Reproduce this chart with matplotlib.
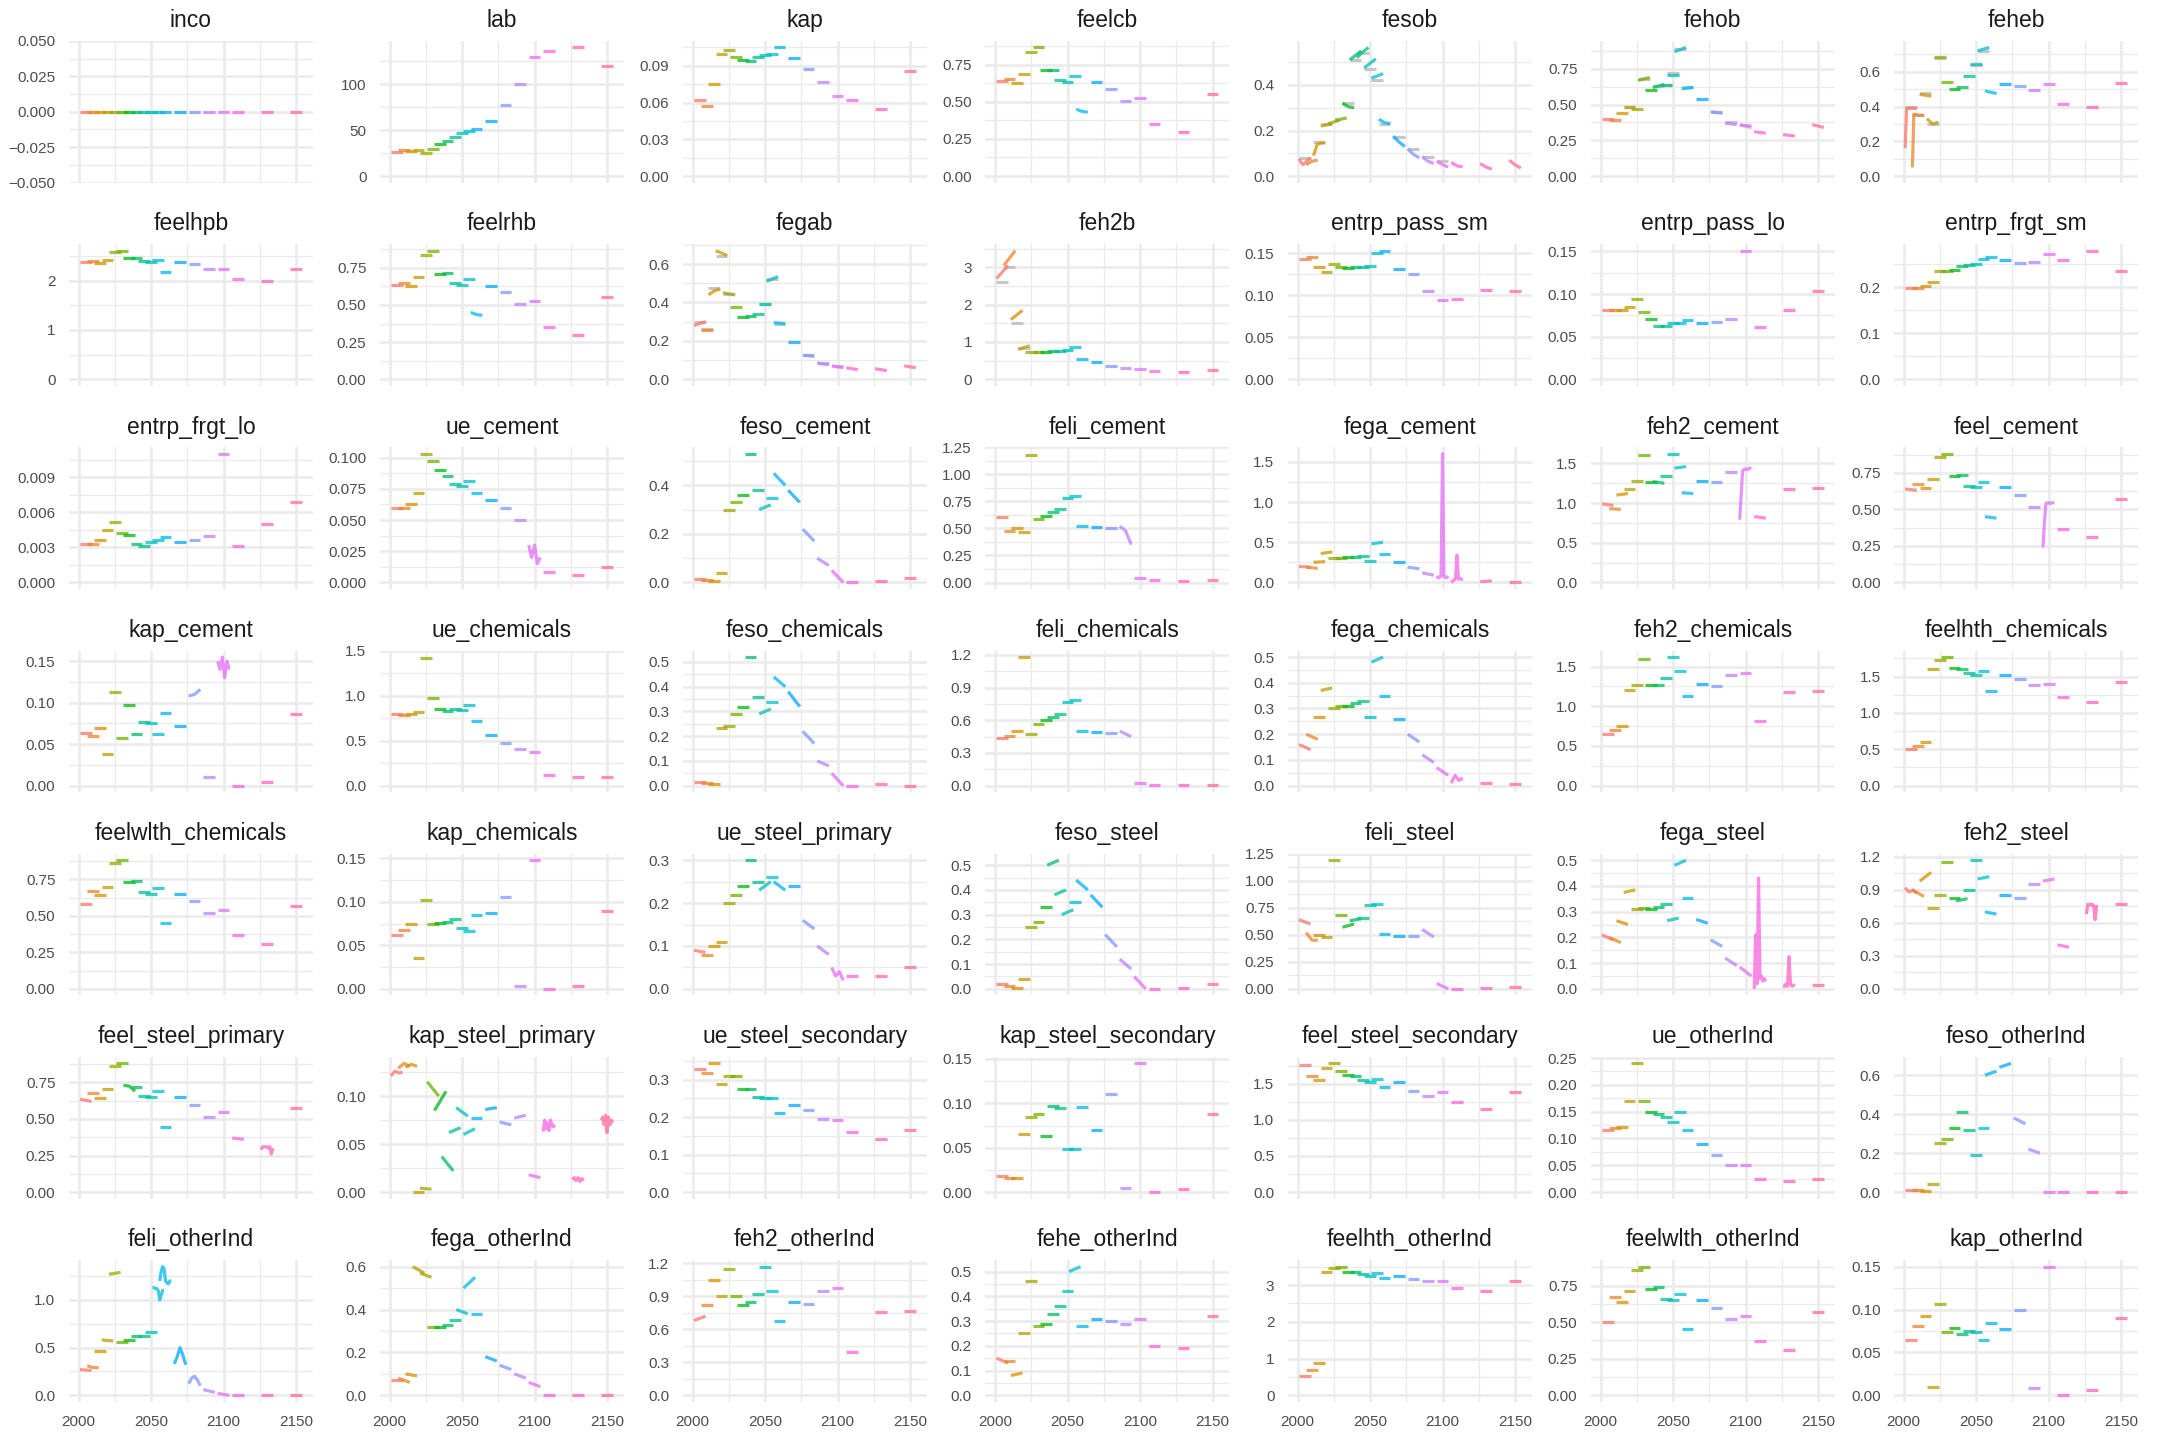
import numpy as np
import matplotlib.pyplot as plt

plt.rcParams['font.family'] = ['Liberation Sans', 'DejaVu Sans']

# model periods; each period is drawn as a short segment t-4 .. t+4
periods = [2005, 2010, 2015, 2020, 2025, 2030, 2035, 2040, 2045, 2050, 2055, 2060,
           2070, 2080, 2090, 2100, 2110, 2130, 2150]

# one entry per period: a number = flat segment, a tuple = values along the segment
inco = [0, 0, 0, 0, 0, 0, 0, 0, 0, 0, 0, 0, 0, 0, 0, 0, 0, 0, 0]
lab = [26.5, 28, 27, 28, 25.5, 29.5, 34.5, 38, 42.5, 46.5, 49.5, 51, 59.5, 77.5, 100, 130, 136, 140, 120]
kap = [0.062, 0.057, 0.075, 0.1, 0.103, 0.097, 0.095, 0.094, 0.097, 0.099, 0.1, 0.105, 0.096,
       0.087, 0.077, 0.065, 0.062, 0.055, 0.086]
feelcb = [0.64, 0.65, 0.625, 0.685, 0.835, 0.865, 0.71, 0.715, 0.645, 0.635, 0.675, (0.45, 0.435, 0.43),
          0.63, 0.585, 0.505, 0.525, 0.35, 0.295, 0.555]
fesob = [(0.075, 0.05, 0.065, 0.08), (0.05, 0.065, 0.07), (0.09, 0.14, 0.145, 0.145), (0.22, 0.225, 0.23),
         (0.23, 0.245), (0.245, 0.255), (0.32, 0.305, 0.30), (0.51, 0.53, 0.55), (0.52, 0.545, 0.565),
         (0.475, 0.515), (0.43, 0.45), (0.25, 0.235, 0.23), (0.175, 0.15, 0.13), (0.12, 0.095, 0.08),
         (0.085, 0.065, 0.055), (0.065, 0.05, 0.04), (0.06, 0.045, 0.04), (0.055, 0.04, 0.03), (0.07, 0.05, 0.035)]
fesob_ref = [0.08, None, 0.15, 0.23, None, None, 0.32, 0.51, 0.54, 0.47, 0.42, 0.23, 0.17, 0.12,
             0.085, 0.065, None, None, None]
fehob = [0.40, 0.39, 0.44, 0.48, 0.47, (0.67, 0.69), 0.60, (0.62, 0.64), 0.64, 0.71, (0.87, 0.90),
         (0.61, 0.62), 0.54, (0.45, 0.44), (0.37, 0.36), (0.36, 0.34), (0.31, 0.30), (0.29, 0.28), (0.36, 0.34)]
fehob_ref = [None, None, None, 0.48, None, 0.68, None, 0.63, 0.64, 0.72, 0.89, 0.62, None, 0.45,
             0.38, 0.36, None, None, None]
feheb = [(0.16, 0.39, 0.39, 0.39, 0.39, 0.39, 0.39, 0.39, 0.385), (0.05, 0.355, 0.355, 0.355, 0.35, 0.35, 0.35, 0.35, 0.35),
         (0.47, 0.46), (0.33, 0.30, 0.31), 0.685, 0.54, 0.50, 0.51, 0.575, 0.645, (0.72, 0.74), (0.49, 0.475),
         0.53, 0.52, 0.495, 0.53, 0.415, 0.40, 0.535]
feheb_ref = [0.40, 0.35, 0.475, 0.30, 0.68, None, None, None, None, 0.64, 0.72, None, None, None,
             None, None, None, None, None]
feelhpb = [2.38, 2.40, 2.36, 2.43, 2.58, 2.61, 2.46, 2.46, 2.39, 2.38, 2.42, 2.18, 2.38, 2.33, 2.24, 2.24, 2.04, 1.99, 2.24]
feelrhb = [0.635, 0.65, 0.625, 0.685, 0.835, 0.865, 0.71, 0.715, 0.645, 0.635, 0.675, (0.45, 0.435, 0.43),
           0.63, 0.585, 0.505, 0.525, 0.35, 0.295, 0.555]
fegab = [(0.28, 0.3), 0.255, (0.44, 0.46, 0.47), (0.67, 0.645), (0.45, 0.44), 0.375, 0.325, 0.33, 0.34, 0.39,
         (0.51, 0.535), (0.295, 0.29), 0.195, (0.125, 0.12), (0.085, 0.075), (0.07, 0.06), (0.06, 0.05),
         (0.055, 0.045), (0.07, 0.06)]
fegab_ref = [0.30, 0.26, 0.475, 0.64, 0.445, None, None, None, None, 0.39, 0.52, 0.29, None, 0.125,
             0.085, 0.07, None, None, None]
feh2b = [(2.7, 3.05), (3.05, 3.45), (1.6, 1.85), (0.8, 0.9), 0.73, 0.74, 0.72, 0.77, 0.76, 0.78, 0.87,
         0.55, 0.45, 0.35, 0.30, 0.27, 0.22, 0.20, 0.26]
feh2b_ref = [2.62, 3.0, 1.5, 0.85, None, None, None, None, None, None, None, None, None, None,
             None, None, None, None, None]
entrp_pass_sm = [0.143, 0.145, 0.134, 0.128, 0.137, 0.133, 0.132, 0.134, 0.134, 0.135, 0.150, 0.153,
                 0.131, 0.125, 0.105, 0.094, 0.096, 0.106, 0.105]
entrp_pass_lo = [0.081, 0.081, 0.081, 0.085, 0.094, 0.079, 0.071, 0.062, 0.062, 0.066, 0.066, 0.070,
                 0.066, 0.067, 0.071, 0.151, 0.061, 0.081, 0.104]
entrp_frgt_sm = [0.198, 0.197, 0.203, 0.212, 0.235, 0.235, 0.238, 0.245, 0.248, 0.25, 0.26, 0.265,
                 0.258, 0.253, 0.254, 0.272, 0.258, 0.279, 0.235]
entrp_frgt_lo = [0.0033, 0.0033, 0.0036, 0.0045, 0.0052, 0.0042, 0.0041, 0.0033, 0.0031, 0.0035, 0.0036,
                 0.0039, 0.0035, 0.0036, 0.004, 0.011, 0.0031, 0.005, 0.0069]
ue_cement = [0.06, 0.06, 0.063, 0.072, 0.103, 0.097, 0.09, 0.085, 0.079, 0.077, 0.081, 0.072, 0.066,
             0.06, 0.05, (0.03, 0.02, 0.03, 0.015, 0.02), 0.008, 0.006, 0.012]
feso_cement = [0.015, 0.01, 0.005, 0.04, 0.3, 0.33, 0.36, 0.53, 0.38, (0.3, 0.32), 0.35, (0.45, 0.4),
               (0.38, 0.33), (0.22, 0.17), (0.1, 0.07), (0.05, 0.0), 0.0, 0.005, 0.02]
feli_cement = [0.61, 0.48, 0.5, 0.47, 1.18, 0.59, 0.62, 0.65, 0.68, 0.78, 0.80, 0.52, 0.51, 0.50,
               (0.52, 0.48, 0.35), 0.04, 0.02, 0.01, 0.02]
fega_cement = [(0.2, 0.19), (0.19, 0.175), (0.25, 0.26), (0.36, 0.38), 0.31, 0.31, 0.32, 0.32, 0.33, 0.27,
               (0.48, 0.5), 0.36, 0.26, (0.19, 0.17), (0.12, 0.09),
               (0.05, 0.07, 0.06, 0.08, 1.6, 0.08, 0.06, 0.07, 0.05),
               (0.0, 0.02, 0.03, 0.05, 0.34, 0.04, 0.05, 0.04, 0.03), (0.01, 0.02), 0.01]
feh2_cement = [(0.99, 0.97), (0.93, 0.92), (1.1, 1.12), 1.18, 1.28, 1.6, 1.27, (1.27, 1.25), 1.34, 1.62,
               (1.44, 1.46), (1.13, 1.12), 1.28, 1.26, 1.39, (0.79, 1.1, 1.41, 1.42, 1.43, 1.42, 1.43, 1.44, 1.44),
               (0.83, 0.81), 1.18, 1.19]
feel_cement = [(0.64, 0.63), 0.675, 0.645, 0.71, 0.86, 0.88, 0.73, 0.735, 0.66, 0.65, 0.69, (0.45, 0.44),
               0.65, 0.60, 0.515, (0.24, 0.4, 0.54, 0.545, 0.545, 0.54, 0.545, 0.545, 0.545), 0.365, 0.31, 0.57]
kap_cement = [0.063, 0.06, 0.07, 0.038, 0.113, 0.057, 0.097, 0.062, 0.077, 0.075, 0.062, 0.088, 0.072,
              (0.108, 0.11, 0.116), 0.01, (0.15, 0.14, 0.155, 0.13, 0.15, 0.14), 0.0, 0.004, 0.086]
ue_chemicals = [0.8, 0.78, 0.8, 0.82, 1.42, 0.97, 0.85, 0.83, 0.85, 0.84, 0.9, 0.72, 0.56, 0.47, 0.41,
                0.37, 0.12, 0.1, 0.1]
feso_chemicals = [0.015, 0.01, 0.005, 0.235, 0.24, 0.29, 0.32, 0.52, 0.36, (0.29, 0.31), 0.34, (0.44, 0.4),
                  (0.38, 0.32), (0.22, 0.17), (0.1, 0.08), (0.05, 0.0), 0.0, 0.005, 0.0]
feli_chemicals = [0.44, 0.46, 0.5, 1.18, 0.47, 0.57, 0.6, 0.63, 0.66, 0.77, 0.79, 0.5, 0.49, 0.48,
                  (0.5, 0.45), 0.02, 0.01, 0.005, 0.005]
fega_chemicals = [(0.16, 0.14), (0.2, 0.18), 0.265, (0.37, 0.38), 0.3, 0.31, 0.31, 0.32, 0.33, 0.265,
                  (0.48, 0.5), 0.35, 0.26, (0.2, 0.17), (0.12, 0.09), (0.07, 0.04), (0.01, 0.04, 0.02, 0.03),
                  0.01, 0.005]
feh2_chemicals = [0.65, 0.7, 0.75, 1.2, 1.27, 1.6, 1.27, 1.27, 1.35, 1.62, 1.45, 1.13, 1.28, 1.26, 1.39,
                  1.42, 0.82, 1.18, 1.19]
feelhth_chemicals = [0.5, 0.55, 0.6, 1.6, 1.73, 1.77, 1.62, 1.6, 1.55, 1.52, 1.58, 1.3, 1.52, 1.47, 1.38,
                     1.4, 1.22, 1.15, 1.43]
feelwlth_chemicals = [0.58, 0.67, 0.64, 0.7, 0.86, 0.88, 0.73, 0.74, 0.66, 0.65, 0.69, 0.45, 0.65, 0.60,
                      0.52, 0.54, 0.37, 0.31, 0.57]
kap_chemicals = [0.062, 0.068, 0.075, 0.036, 0.102, 0.075, 0.076, 0.077, 0.08, 0.07, 0.067, 0.085, 0.087,
                 0.106, 0.003, 0.148, 0.0, 0.003, 0.09]
ue_steel_primary = [(0.09, 0.085), 0.08, 0.1, 0.11, 0.2, 0.22, 0.24, 0.3, 0.25, (0.23, 0.25), 0.26,
                    (0.25, 0.23), 0.24, (0.16, 0.14), (0.1, 0.08), (0.05, 0.03, 0.04, 0.02), 0.03, 0.03, 0.05]
feso_steel = [0.02, 0.01, 0.005, 0.04, 0.25, 0.27, 0.33, (0.5, 0.52), (0.38, 0.4), (0.3, 0.32), 0.35,
              (0.44, 0.40), (0.38, 0.33), (0.22, 0.17), (0.12, 0.08), (0.05, 0.0), 0.0, 0.005, 0.02]
feli_steel = [(0.64, 0.6), (0.52, 0.45, 0.45), 0.5, 0.48, 1.19, 0.68, (0.57, 0.6), (0.63, 0.65), 0.66, 0.78,
              0.79, 0.51, 0.49, 0.49, (0.55, 0.48), (0.05, 0.0), 0.0, 0.005, 0.02]
fega_steel = [(0.21, 0.19), (0.2, 0.18), (0.265, 0.25), (0.375, 0.385), 0.31, 0.315, 0.31, 0.32, 0.33,
              (0.265, 0.275), (0.48, 0.5), 0.355, (0.27, 0.255), (0.19, 0.165), (0.12, 0.09), (0.085, 0.05),
              (0.0, 0.21, 0.02, 0.43, 0.04, 0.05, 0.03, 0.04, 0.03),
              (0.01, 0.01, 0.02, 0.01, 0.125, 0.02, 0.01, 0.015, 0.01), 0.015]
feh2_steel = [(0.92, 0.88, 0.9, 0.87), (0.9, 0.84), (0.98, 1.06), 0.74, 0.85, 1.15, 0.83, (0.8, 0.82), 0.9,
              1.17, (1.0, 1.02), (0.7, 0.68), 0.85, 0.83, 0.95, (0.98, 1.0), (0.4, 0.38),
              (0.68, 0.77, 0.77, 0.76, 0.77, 0.76, 0.63, 0.75, 0.75), 0.77]
feel_steel_primary = [(0.635, 0.62), 0.675, 0.645, 0.705, 0.86, 0.88, (0.73, 0.725, 0.69), 0.72, 0.66, 0.65,
                      0.69, 0.445, 0.65, 0.595, 0.515, 0.545, (0.37, 0.36),
                      (0.29, 0.31, 0.31, 0.31, 0.31, 0.3, 0.31, 0.26, 0.3), 0.575]
kap_steel_primary = [(0.121, 0.126, 0.124, 0.125), (0.129, 0.134, 0.131), (0.13, 0.133, 0.131), 0.0,
                     (0.004, 0.003), (0.115, 0.1), (0.085, 0.105), (0.037, 0.022), (0.062, 0.067),
                     (0.088, 0.079), (0.06, 0.066), 0.077, (0.086, 0.088), (0.073, 0.07), (0.077, 0.08),
                     (0.018, 0.015), (0.063, 0.075, 0.066, 0.072, 0.064, 0.075, 0.07, 0.068, 0.07),
                     (0.013, 0.015, 0.012, 0.015, 0.011, 0.014, 0.012),
                     (0.075, 0.078, 0.07, 0.08, 0.062, 0.078, 0.07, 0.075, 0.072)]
ue_steel_secondary = [0.328, 0.317, 0.343, 0.288, 0.31, 0.31, 0.276, 0.276, 0.254, 0.25, 0.25, 0.21, 0.232,
                      0.218, 0.195, 0.193, 0.16, 0.141, 0.165]
kap_steel_secondary = [0.018, 0.016, 0.016, 0.065, 0.085, 0.088, 0.063, 0.097, 0.095, 0.048, 0.048, 0.096,
                       0.07, 0.11, 0.005, 0.145, 0.0, 0.003, 0.088]
feel_steel_secondary = [1.76, 1.6, 1.55, 1.72, 1.78, 1.68, 1.62, 1.6, 1.55, 1.52, 1.57, 1.45, 1.52, 1.4,
                        1.33, 1.38, 1.25, 1.15, 1.38]
ue_otherInd = [0.115, 0.12, 0.122, 0.17, 0.24, 0.17, 0.15, 0.145, 0.14, 0.13, 0.15, 0.115, 0.09, 0.07,
               0.05, 0.05, 0.025, 0.02, 0.025]
feso_otherInd = [0.01, 0.01, 0.005, 0.04, 0.25, 0.27, 0.33, 0.41, 0.32, 0.19, 0.33, (0.6, 0.62), (0.64, 0.66),
                 (0.38, 0.35), (0.22, 0.2), 0.0, 0.0, 0.0, 0.0]
feli_otherInd = [(0.27, 0.26), (0.31, 0.29, 0.29), 0.46, (0.58, 0.57), (1.27, 1.29), 0.56, 0.58, 0.62, 0.62,
                 0.66, (1.13, 1.13, 1.12, 1.12, 1.1, 1.0, 1.05, 1.1, 1.1),
                 (1.2, 1.3, 1.35, 1.33, 1.2, 1.18, 1.17, 1.2, 1.2), (0.33, 0.4, 0.5, 0.42, 0.32),
                 (0.12, 0.18, 0.2, 0.16, 0.1), (0.06, 0.03), (0.02, 0.0), 0.0, 0.0, 0.0]
fega_otherInd = [0.07, (0.08, 0.06), (0.1, 0.09), (0.6, 0.57), (0.57, 0.55), 0.32, 0.32, 0.33, 0.35,
                 (0.4, 0.38), (0.5, 0.55), 0.38, (0.18, 0.16), (0.14, 0.12), (0.1, 0.08), (0.06, 0.04),
                 0.0, 0.0, 0.0]
feh2_otherInd = [(0.68, 0.72), 0.82, 1.05, 0.9, 1.15, 0.9, 0.82, 0.85, 0.92, 1.17, 0.95, 0.68, 0.85, 0.83,
                 0.95, 0.98, 0.39, 0.76, 0.77]
fehe_otherInd = [(0.15, 0.13), 0.14, (0.08, 0.09), 0.25, 0.46, 0.28, 0.29, 0.33, 0.36, 0.42, (0.5, 0.52),
                 0.28, 0.31, 0.3, 0.29, 0.31, 0.2, 0.19, 0.32]
feelhth_otherInd = [0.52, 0.7, 0.88, 3.35, 3.45, 3.5, 3.35, 3.35, 3.3, 3.25, 3.32, 3.2, 3.25, 3.15, 3.1,
                    3.1, 2.92, 2.85, 3.1]
feelwlth_otherInd = [0.5, 0.67, 0.64, 0.71, 0.86, 0.88, 0.73, 0.74, 0.66, 0.65, 0.69, 0.45, 0.65, 0.6,
                     0.52, 0.54, 0.37, 0.31, 0.57]
kap_otherInd = [0.064, 0.081, 0.092, 0.01, 0.106, 0.074, 0.078, 0.072, 0.075, 0.074, 0.065, 0.084, 0.077,
                0.1, 0.008, 0.15, 0.0, 0.006, 0.09]

# y breaks per panel
t_025 = [0, 0.25, 0.5, 0.75]
t_05 = [0, 0.05, 0.1, 0.15]
t_half = [0, 0.5, 1, 1.5]
t_tenth5 = [0, 0.1, 0.2, 0.3, 0.4, 0.5]

panels = [
    ("inco", inco, [-0.05, -0.025, 0, 0.025, 0.05]),
    ("lab", lab, [0, 50, 100]),
    ("kap", kap, [0, 0.03, 0.06, 0.09]),
    ("feelcb", feelcb, t_025),
    ("fesob", fesob, [0, 0.2, 0.4]),
    ("fehob", fehob, t_025),
    ("feheb", feheb, [0, 0.2, 0.4, 0.6]),
    ("feelhpb", feelhpb, [0, 1, 2]),
    ("feelrhb", feelrhb, t_025),
    ("fegab", fegab, [0, 0.2, 0.4, 0.6]),
    ("feh2b", feh2b, [0, 1, 2, 3]),
    ("entrp_pass_sm", entrp_pass_sm, t_05),
    ("entrp_pass_lo", entrp_pass_lo, t_05),
    ("entrp_frgt_sm", entrp_frgt_sm, [0, 0.1, 0.2]),
    ("entrp_frgt_lo", entrp_frgt_lo, [0, 0.003, 0.006, 0.009]),
    ("ue_cement", ue_cement, [0, 0.025, 0.05, 0.075, 0.1]),
    ("feso_cement", feso_cement, [0, 0.2, 0.4]),
    ("feli_cement", feli_cement, [0, 0.25, 0.5, 0.75, 1, 1.25]),
    ("fega_cement", fega_cement, t_half),
    ("feh2_cement", feh2_cement, t_half),
    ("feel_cement", feel_cement, t_025),
    ("kap_cement", kap_cement, t_05),
    ("ue_chemicals", ue_chemicals, t_half),
    ("feso_chemicals", feso_chemicals, t_tenth5),
    ("feli_chemicals", feli_chemicals, [0, 0.3, 0.6, 0.9, 1.2]),
    ("fega_chemicals", fega_chemicals, t_tenth5),
    ("feh2_chemicals", feh2_chemicals, t_half),
    ("feelhth_chemicals", feelhth_chemicals, t_half),
    ("feelwlth_chemicals", feelwlth_chemicals, t_025),
    ("kap_chemicals", kap_chemicals, t_05),
    ("ue_steel_primary", ue_steel_primary, [0, 0.1, 0.2, 0.3]),
    ("feso_steel", feso_steel, t_tenth5),
    ("feli_steel", feli_steel, [0, 0.25, 0.5, 0.75, 1, 1.25]),
    ("fega_steel", fega_steel, t_tenth5),
    ("feh2_steel", feh2_steel, [0, 0.3, 0.6, 0.9, 1.2]),
    ("feel_steel_primary", feel_steel_primary, t_025),
    ("kap_steel_primary", kap_steel_primary, [0, 0.05, 0.1]),
    ("ue_steel_secondary", ue_steel_secondary, [0, 0.1, 0.2, 0.3]),
    ("kap_steel_secondary", kap_steel_secondary, t_05),
    ("feel_steel_secondary", feel_steel_secondary, t_half),
    ("ue_otherInd", ue_otherInd, [0, 0.05, 0.1, 0.15, 0.2, 0.25]),
    ("feso_otherInd", feso_otherInd, [0, 0.2, 0.4, 0.6]),
    ("feli_otherInd", feli_otherInd, [0, 0.5, 1]),
    ("fega_otherInd", fega_otherInd, [0, 0.2, 0.4, 0.6]),
    ("feh2_otherInd", feh2_otherInd, [0, 0.3, 0.6, 0.9, 1.2]),
    ("fehe_otherInd", fehe_otherInd, t_tenth5),
    ("feelhth_otherInd", feelhth_otherInd, [0, 1, 2, 3]),
    ("feelwlth_otherInd", feelwlth_otherInd, t_025),
    ("kap_otherInd", kap_otherInd, t_05),
]
refs = {"fesob": fesob_ref, "fehob": fehob_ref, "feheb": feheb_ref,
        "fegab": fegab_ref, "feh2b": feh2b_ref}


def hcl_colour(h, c=100.0, l=65.0):
    # polar CIE-Luv -> sRGB, like R's hcl()
    hr = np.deg2rad(h)
    u, v = c * np.cos(hr), c * np.sin(hr)
    xn, yn, zn = 95.047, 100.0, 108.883
    un = 4 * xn / (xn + 15 * yn + 3 * zn)
    vn = 9 * yn / (xn + 15 * yn + 3 * zn)
    y = yn * ((l + 16) / 116) ** 3
    up = u / (13 * l) + un
    vp = v / (13 * l) + vn
    x = y * 9 * up / (4 * vp)
    z = y * (12 - 3 * up - 20 * vp) / (4 * vp)
    x, y, z = x / 100, y / 100, z / 100
    rgb = np.array([3.2404542 * x - 1.5371385 * y - 0.4985314 * z,
                    -0.9692660 * x + 1.8760108 * y + 0.0415560 * z,
                    0.0556434 * x - 0.2040259 * y + 1.0572252 * z])
    rgb = np.where(rgb <= 0.0031308, 12.92 * rgb, 1.055 * np.abs(rgb) ** (1 / 2.4) - 0.055)
    return tuple(np.clip(rgb, 0, 1))


colours = [hcl_colour(h % 360) for h in np.linspace(15, 375, len(periods) + 1)[:-1]]


def seg(t, v):
    vals = np.atleast_1d(np.array(v, dtype=float))
    if len(vals) == 1:
        vals = np.repeat(vals, 2)
    return np.linspace(t - 4, t + 4, len(vals)), vals


def fmt(v, dec):
    s = f"{abs(v):.{dec}f}"
    return ("\u2212" + s) if v < 0 else s


def ndec(ticks):
    return max(len(f"{t:.6f}".rstrip('0').split('.')[1]) for t in ticks)


W, H = 2163, 1434
col_x2000 = [78.5, 389.5, 692.5, 995.0, 1297.5, 1600.5, 1903.7]
px_per_year = 1.45
row_top0, row_step, panel_h = 41.0, 203.2, 141.5

x_lo, x_hi = periods[0] - 4, periods[-1] + 4
xlim = (x_lo - 0.05 * (x_hi - x_lo), x_hi + 0.05 * (x_hi - x_lo))
panel_w = (xlim[1] - xlim[0]) * px_per_year
grid_c = '#EBEBEB'

fig = plt.figure(figsize=(W / 100, H / 100), dpi=100)

for k, (name, values, yt) in enumerate(panels):
    r, c = divmod(k, 7)
    left = col_x2000[c] - (2000 - xlim[0]) * px_per_year
    top = row_top0 + r * row_step
    ax = fig.add_axes([left / W, 1 - (top + panel_h) / H, panel_w / W, panel_h / H])

    ref = refs.get(name)
    allv = [0.0]
    for v in values:
        allv += list(np.atleast_1d(v))
    if ref:
        allv += [v for v in ref if v is not None]
    lo, hi = min(allv), max(allv)
    if hi - lo == 0:
        ylim = (lo - 0.05, hi + 0.05)
    else:
        ylim = (lo - 0.05 * (hi - lo), hi + 0.05 * (hi - lo))
    ax.set_xlim(xlim)
    ax.set_ylim(ylim)

    # grid as in theme_minimal
    step = yt[1] - yt[0]
    minors = [t + step / 2 for t in yt[:-1]]
    if yt[0] - step / 2 >= ylim[0]:
        minors.append(yt[0] - step / 2)
    if yt[-1] + step / 2 <= ylim[1]:
        minors.append(yt[-1] + step / 2)
    for m in minors:
        ax.axhline(m, color=grid_c, lw=0.95, zorder=0)
    for t in yt:
        ax.axhline(t, color=grid_c, lw=1.9, zorder=0)
    for xm in [2025, 2075, 2125]:
        ax.axvline(xm, color=grid_c, lw=0.95, zorder=0)
    for xt in [2000, 2050, 2100, 2150]:
        ax.axvline(xt, color=grid_c, lw=1.9, zorder=0)

    if ref:
        for t, v in zip(periods, ref):
            if v is not None:
                xs, ys = seg(t, v)
                ax.plot(xs, ys, color='#BEBEBE', lw=2.3, alpha=0.85,
                        solid_capstyle='butt', zorder=2)
    for i, (t, v) in enumerate(zip(periods, values)):
        xs, ys = seg(t, v)
        ax.plot(xs, ys, color=colours[i], lw=2.3, alpha=0.75,
                solid_capstyle='butt', solid_joinstyle='round', zorder=3)

    for s in ax.spines.values():
        s.set_visible(False)
    d = ndec(yt)
    ax.set_yticks(yt)
    ax.set_yticklabels([fmt(t, d) for t in yt])
    ax.set_xticks([2000, 2050, 2100, 2150])
    if r == 6:
        ax.set_xticklabels(['2000', '2050', '2100', '2150'])
    else:
        ax.set_xticklabels([])
    ax.tick_params(length=0, labelsize=11, labelcolor='#4D4D4D', pad=9.7)
    ax.set_title(name, fontsize=16.5, color='#1A1A1A', pad=10)

fig.savefig('out.png', dpi=100)
